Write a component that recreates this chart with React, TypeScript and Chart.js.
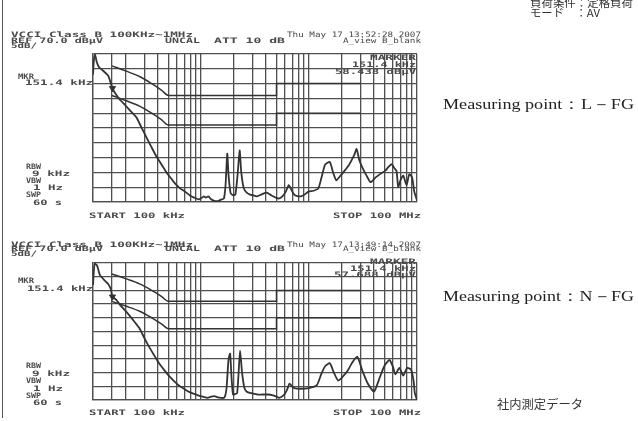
import React, { useEffect, useRef } from "react";
import { Chart, registerables } from "chart.js";

Chart.register(...registerables);

// ---------- data ----------
const gridFreqsHz = [
  100e3, 150e3, 200e3, 300e3, 400e3, 500e3, 600e3, 700e3, 800e3, 900e3,
  1e6, 2e6, 3e6, 4e6, 5e6, 6e6, 7e6, 8e6, 9e6,
  10e6, 20e6, 30e6, 40e6, 50e6, 60e6, 70e6, 80e6, 90e6, 100e6,
];
const levelTicks = [20, 25, 30, 35, 40, 45, 50, 55, 60, 65, 70];

const limitFreqHz = [150e3, 200e3, 270e3, 350e3, 430e3, 500e3, 5e6, 5e6, 30e6];
const qpLimit = [66, 64.3, 62.4, 60, 57.8, 56, 56, 60, 60];
const avLimit = [56, 54.3, 52.4, 50, 47.8, 46, 46, 50, 50];

const traceLFreqKHz = [
  100, 102, 104.5, 108, 113, 120, 126, 133, 139, 145, 151.4, 160, 175, 200, 230, 252, 280, 309, 345, 381,
  425, 469, 520, 577, 640, 711, 790, 877, 950, 1000, 1060, 1110, 1170, 1240, 1330, 1430, 1530, 1630, 1690, 1750,
  1800, 1880, 1980, 2080, 2180, 2280, 2360, 2490, 2650, 2850, 3050, 3290, 3650, 4040, 4500, 4980, 5300, 5670, 6100, 6500,
  6900, 7300, 7800, 8400, 9100, 9900, 11000, 12200, 13000, 14100, 15600, 16700, 17900, 19500, 21300, 23500, 26200, 27600, 29300, 31300,
  34000, 37200, 41400, 45800, 50600, 55000, 58200, 61500, 64600, 67000, 70500, 74600, 80000, 84800, 90100, 94400, 100000,
];
const traceLLevel = [
  63, 68, 69.8, 67.5, 65.7, 64.8, 64.1, 63.3, 62.5, 60.5, 58.4, 56.8, 54.8, 52.6, 50.2, 48.6, 45.3, 42.2, 38.8, 35.8,
  33, 30.5, 28.3, 26.2, 24.6, 23.5, 22.2, 21.4, 20.9, 21.2, 21.9, 21.5, 21.9, 20.9, 20.4, 20.3, 20.8, 21.2, 26, 36.3,
  29, 23, 22.3, 22.5, 29, 37.4, 30, 24.6, 23.2, 22.5, 22.2, 21.9, 22.6, 23.2, 22.2, 21.4, 21.2, 21.9, 23.5, 25.7,
  24, 22.5, 22, 21.9, 22.5, 23.5, 23.8, 24.6, 28, 32.6, 33.5, 30, 27.3, 28.8, 30.5, 32.6, 35.8, 37.9, 34, 31.5,
  29, 26.7, 28.3, 29.5, 30.5, 32, 32.8, 31.5, 30.5, 25.1, 27.5, 28.9, 25.7, 29.4, 28.3, 23.5, 20.5,
];

const traceNFreqKHz = [
  100, 102, 104, 109, 113, 116, 121, 126, 133, 139, 146, 151.4, 165, 178, 200, 219, 245, 270, 300, 333,
  370, 409, 455, 503, 560, 620, 690, 762, 850, 939, 1040, 1150, 1240, 1330, 1430, 1530, 1640, 1720, 1800, 1860,
  1920, 1980, 2080, 2160, 2230, 2300, 2400, 2520, 2640, 2900, 3390, 3700, 4200, 4630, 5000, 5300, 5900, 6300, 6600, 6950,
  7300, 8400, 9900, 11800, 13000, 14100, 15600, 17000, 18600, 20500, 22700, 25000, 28000, 31000, 35000, 40000, 45000, 50000, 55600, 60000,
  63000, 68600, 74600, 81000, 88000, 93000, 95500, 100000,
];
const traceNLevel = [
  62, 67.5, 69.7, 69.1, 67, 65.6, 64.7, 63.9, 63, 62.2, 60.5, 57.7, 56.5, 54.7, 52.5, 50.7, 48.3, 46.1, 42.5, 39.2,
  36.2, 33.4, 31, 28.9, 27, 25.4, 24.2, 23.1, 22.3, 21.7, 21.2, 20.8, 21.2, 21.4, 21, 20.8, 20.8, 24, 35, 36.9,
  28, 22, 22.2, 22.5, 30, 38, 30, 24.5, 23.1, 22.5, 22, 22, 22, 21.7, 21.2, 20.8, 22, 24, 26, 25,
  24.3, 24.1, 24.3, 25.4, 29.5, 32.3, 33.4, 30, 27.1, 28.5, 30.6, 33.5, 35.8, 31, 26, 23.1, 28, 32.5, 34.6, 32,
  29.4, 31.7, 28.9, 31.7, 31.1, 27, 22.5, 20,
];

const markerFreqKHz = 151.4;
const markerLevelL = 58.438;
const markerLevelN = 57.688;

// ---------- styles ----------
const GRID = "#4f4f4f";
const INK = "#333333";
const TXT = "#4a4a4a";
const MONO = "'DejaVu Sans Mono', monospace";
const SERIF = "'Liberation Serif', 'DejaVu Serif', serif";
const CJK = "'Noto Sans CJK JP', sans-serif";

type PlotProps = {
  left: number;
  top: number;
  width: number;
  height: number;
  freqKHz: number[];
  level: number[];
  marker: number;
};

function Plot({ left, top, width, height, freqKHz, level, marker }: PlotProps) {
  const ref = useRef<HTMLCanvasElement>(null);
  useEffect(() => {
    const limitData = (vals: number[]) => limitFreqHz.map((f, i) => ({ x: f, y: vals[i] }));
    const chart = new Chart(ref.current as HTMLCanvasElement, {
      type: "line",
      data: {
        datasets: [
          {
            data: freqKHz.map((f, i) => ({ x: f * 1000, y: level[i] })),
            borderColor: INK,
            borderWidth: 1.8,
            pointRadius: 0,
            tension: 0.2,
          },
          {
            data: limitData(qpLimit),
            borderColor: INK,
            borderWidth: 1.5,
            pointRadius: 0,
            tension: 0.3,
            cubicInterpolationMode: "monotone",
          },
          {
            data: limitData(avLimit),
            borderColor: INK,
            borderWidth: 1.5,
            pointRadius: 0,
            tension: 0.3,
            cubicInterpolationMode: "monotone",
          },
          {
            type: "scatter",
            data: [{ x: markerFreqKHz * 1000, y: marker }],
            pointStyle: "triangle",
            rotation: 180,
            pointRadius: 3.5,
            backgroundColor: INK,
            borderColor: INK,
          },
        ] as any,
      },
      options: {
        animation: false,
        responsive: false,
        maintainAspectRatio: false,
        events: [],
        layout: { padding: 1 },
        plugins: { legend: { display: false }, tooltip: { enabled: false } },
        scales: {
          x: {
            type: "logarithmic",
            min: 1e5,
            max: 1e8,
            afterBuildTicks: (s: any) => {
              s.ticks = gridFreqsHz.map((v) => ({ value: v }));
            },
            ticks: { display: false },
            grid: { color: GRID, lineWidth: 1.3, drawTicks: false },
            border: { color: GRID, width: 1.3 },
          },
          y: {
            type: "linear",
            min: 20,
            max: 70,
            afterBuildTicks: (s: any) => {
              s.ticks = levelTicks.map((v) => ({ value: v }));
            },
            ticks: { display: false },
            grid: { color: GRID, lineWidth: 1.3, drawTicks: false },
            border: { color: GRID, width: 1.3 },
          },
        },
      } as any,
    });
    return () => chart.destroy();
  }, []);
  return (
    <canvas
      ref={ref}
      width={width + 2}
      height={height + 2}
      style={{ position: "absolute", left: left - 1, top: top - 1, width: width + 2, height: height + 2 }}
    />
  );
}

type TProps = { x: number; y: number; w: number; s: string; size?: number; family?: string; color?: string; weight?: string };
function T({ x, y, w, s, size = 7.5, family = MONO, color = TXT, weight = "bold" }: TProps) {
  return (
    <text
      x={x}
      y={y}
      textLength={w}
      lengthAdjust="spacingAndGlyphs"
      style={{ font: `${weight} ${size}px ${family}`, whiteSpace: "pre" }}
      fill={color}
    >
      {s}
    </text>
  );
}

export default function App() {
  return (
    <div style={{ position: "absolute", left: 0, top: 0, width: 638, height: 421, background: "#fff", overflow: "hidden" }}>
      <Plot left={89} top={50} width={332} height={156} freqKHz={traceLFreqKHz} level={traceLLevel} marker={markerLevelL} />
      <Plot left={89} top={259} width={332} height={145} freqKHz={traceNFreqKHz} level={traceNLevel} marker={markerLevelN} />
      <svg width={638} height={421} style={{ position: "absolute", left: 0, top: 0, pointerEvents: "none" }}>
        <line x1={2.5} y1={0} x2={2.5} y2={418} stroke="#555" strokeWidth={1} />

        {/* top analyzer screen */}
        <T x={11} y={37} w={182} s="VCCI Class B 100KHz~1MHz" />
        <T x={11} y={42.5} w={92} s="REF 70.0 dBμV" />
        <T x={11} y={47.5} w={26} s="5dB/" />
        <T x={165} y={42.5} w={35} s="UNCAL" />
        <T x={214} y={42.5} w={71} s="ATT 10 dB" />
        <T x={287} y={37} w={134} s="Thu May 17 13:52:28 2007" weight="normal" />
        <T x={343} y={42.5} w={78} s="A_view B_blank" weight="normal" />
        <T x={18} y={78.5} w={16} s="MKR" />
        <T x={25} y={85} w={68} s="151.4 kHz" />
        <T x={370} y={60} w={46} s="MARKER" />
        <T x={352} y={67} w={64} s="151.4 kHz" />
        <T x={335} y={74} w={81} s="58.438 dBμV" />
        <T x={26} y={169} w={15} s="RBW" />
        <T x={32} y={176} w={38} s="9 kHz" />
        <T x={26} y={183} w={15} s="VBW" />
        <T x={33} y={190} w={30} s="1 Hz" />
        <T x={26} y={197} w={15} s="SWP" />
        <T x={33} y={205} w={29} s="60 s" />
        <T x={89} y={218} w={96} s="START 100 kHz" />
        <T x={333} y={218} w={88} s="STOP 100 MHz" />

        {/* bottom analyzer screen */}
        <T x={11} y={246.5} w={182} s="VCCI Class B 100KHz~1MHz" />
        <T x={11} y={251} w={92} s="REF 70.0 dBμV" />
        <T x={11} y={255.5} w={26} s="5dB/" />
        <T x={165} y={251} w={35} s="UNCAL" />
        <T x={214} y={251} w={71} s="ATT 10 dB" />
        <T x={287} y={246.5} w={134} s="Thu May 17 13:49:14 2007" weight="normal" />
        <T x={343} y={251} w={78} s="A_view B_blank" weight="normal" />
        <T x={18} y={283} w={16} s="MKR" />
        <T x={27} y={291} w={66} s="151.4 kHz" />
        <T x={370} y={264} w={46} s="MARKER" />
        <T x={350} y={270.5} w={66} s="151.4 kHz" />
        <T x={334} y={277} w={82} s="57.688 dBμV" />
        <T x={26} y={368} w={15} s="RBW" />
        <T x={32} y={376} w={38} s="9 kHz" />
        <T x={26} y={383} w={15} s="VBW" />
        <T x={33} y={391} w={30} s="1 Hz" />
        <T x={26} y={398} w={15} s="SWP" />
        <T x={33} y={405} w={29} s="60 s" />
        <T x={89} y={415} w={96} s="START 100 kHz" />
        <T x={333} y={415} w={88} s="STOP 100 MHz" />

        {/* side annotations */}
        <T x={530} y={7} w={103} s="負荷条件：定格負荷" size={11} family={CJK} color="#333" weight="normal" />
        <T x={530} y={17} w={70} s="モード　：AV" size={11} family={CJK} color="#333" weight="normal" />
        <T x={443} y={109} w={191} s="Measuring point：L－FG" size={14.5} family={SERIF} color="#222" weight="normal" />
        <T x={443} y={301} w={191} s="Measuring point：N－FG" size={14.5} family={SERIF} color="#222" weight="normal" />
        <T x={497} y={409} w={86} s="社内測定データ" size={12} family={CJK} color="#333" weight="normal" />
      </svg>
    </div>
  );
}
